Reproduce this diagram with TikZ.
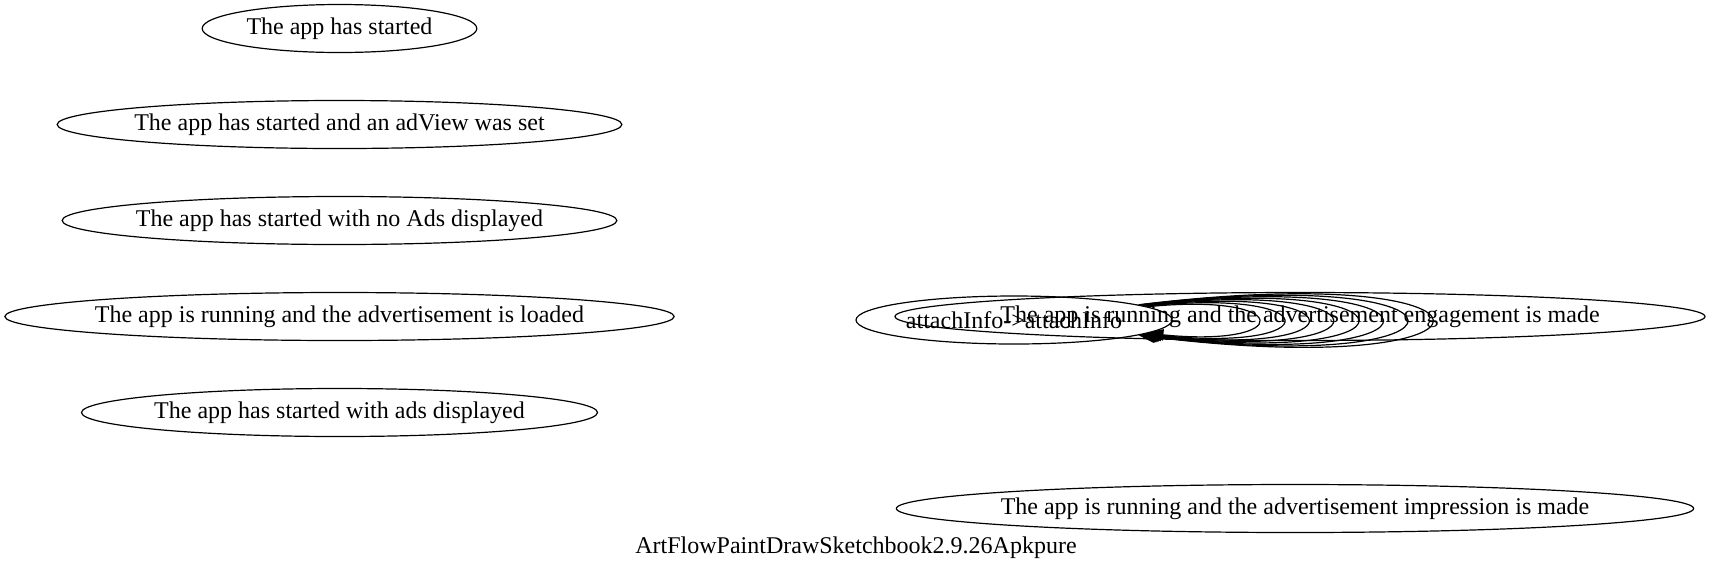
\documentclass[tikz,border=0pt]{standalone}
\usepackage{fontspec}
\setmainfont{Liberation Serif}
\usetikzlibrary{shapes.geometric,arrows.meta,calc}
\newcommand\zw[1]{\makebox[0pt]{#1}}
\tikzset{
  st/.style={ellipse, draw, line width=0.9pt, inner sep=0pt, minimum height=36pt,
    font=\fontsize{18}{21}\selectfont},
  loopedge/.style={line width=0.9pt, -{Triangle[length=12pt,width=8.5pt]}},
  ttl/.style={font=\fontsize{18}{21}\selectfont, inner sep=0pt}
}
\begin{document}
\begin{tikzpicture}[x=0.75pt,y=-0.75pt]
\useasboundingbox (0,0) rectangle (1712,569);
% left column
\node[st, minimum width=206pt]   (n1) at (339.5,28.5)  {\zw{The app has started}};
\node[st, minimum width=423.5pt] (n2) at (339.5,124.5) {\zw{The app has started and an adView was set}};
\node[st, minimum width=416pt]   (n3) at (339.5,220.5) {\zw{The app has started with no Ads displayed}};
\node[st, minimum width=502pt]   (n4) at (339.5,316.5) {\zw{The app is running and the advertisement is loaded}};
\node[st, minimum width=387pt]   (n5) at (339.5,412.5) {\zw{The app has started with ads displayed}};
% right side
\node[st, minimum width=607.5pt] (eng) at (1300,316.5) {\zw{The app is running and the advertisement engagement is made}};
\node[st, minimum width=237pt]   (att) at (1014,320)   {\zw{attachInfo->attachInfo}};
\node[st, minimum width=598pt]   (imp) at (1295,508.5) {\zw{The app is running and the advertisement impression is made}};
% self loops
\foreach \d/\y in {281/28, 315/33, 348/38, 381/43, 415/48, 448/53, 481/58, 515/63}
  \draw[loopedge] (att) .. controls ($(att.center)+(\d,-\y)$) and ($(att.center)+(\d,\y)$) .. (att);
% title
\node[ttl] (title) at (856,548) {ArtFlowPaintDrawSketchbook2.9.26Apkpure};
\end{tikzpicture}
\end{document}
